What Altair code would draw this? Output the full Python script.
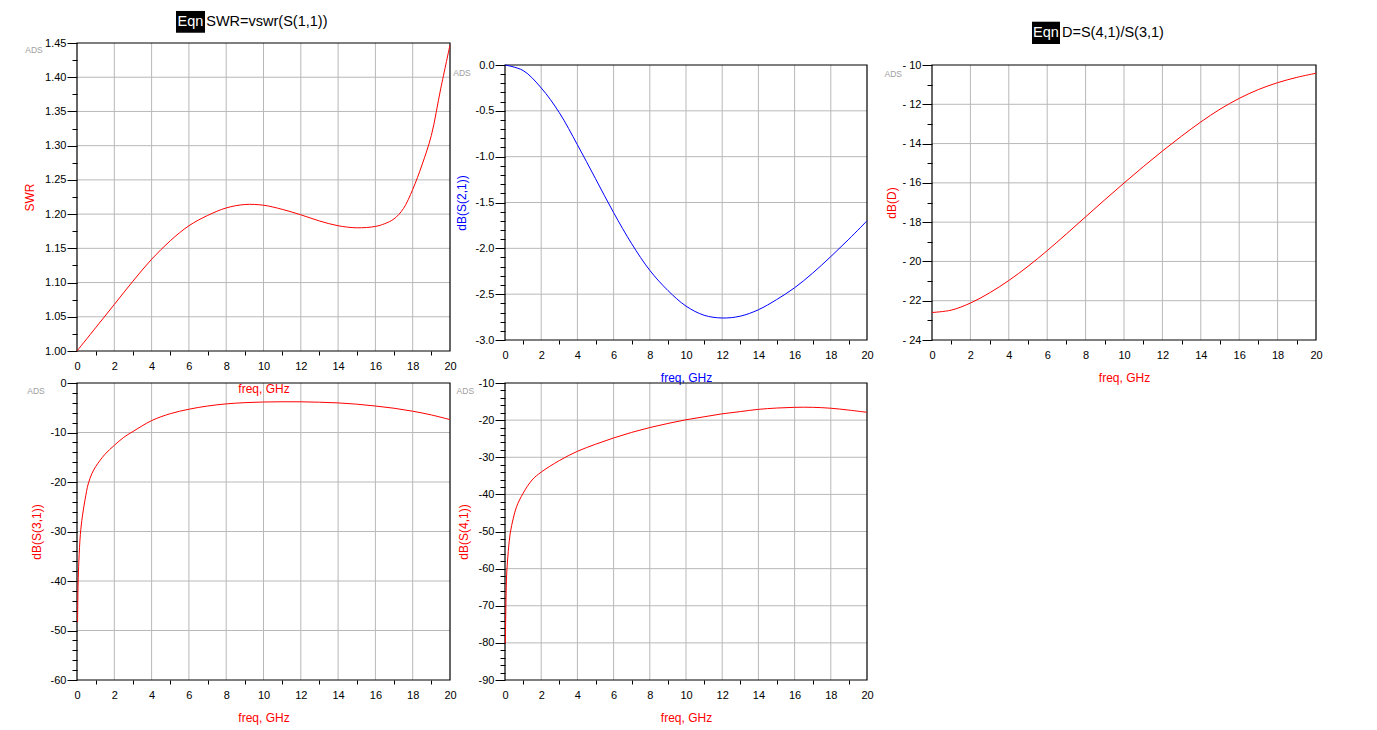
import altair as alt
import pandas as pd

FONT = "Liberation Sans"
RED = "#ff0000"
BLUE = "#0000ff"
GRID = "#b8b8b8"

# ---------------- data ----------------
SWR_FREQ = [0, 1, 2, 3, 4, 5, 6, 7, 8, 9, 10, 11, 12, 13, 14, 15, 16, 16.5, 17, 17.5, 18, 18.5,
            19, 19.5, 20]
SWR_VAL = [1.000, 1.034, 1.068, 1.102, 1.134, 1.161, 1.183, 1.198, 1.209, 1.214, 1.213, 1.207,
           1.199, 1.190, 1.183, 1.180, 1.182, 1.186, 1.193, 1.208, 1.236, 1.272, 1.315, 1.383,
           1.447]

FREQ = [0, 1, 2, 3, 4, 5, 6, 7, 8, 9, 10, 11, 12, 13, 14, 15, 16, 17, 18, 19, 20]
S21_DB = [0.0, -0.06, -0.25, -0.52, -0.87, -1.24, -1.61, -1.95, -2.24, -2.46, -2.63,
          -2.73, -2.76, -2.74, -2.67, -2.56, -2.43, -2.27, -2.09, -1.90, -1.70]
D_DB = [-22.60, -22.48, -22.12, -21.60, -20.97, -20.25, -19.45, -18.60, -17.73, -16.86, -16.01,
        -15.18, -14.38, -13.62, -12.90, -12.25, -11.70, -11.25, -10.90, -10.63, -10.42]

S31_FREQ = [0.03, 0.06, 0.1, 0.18, 0.29, 0.43, 0.6, 0.8, 1.0, 1.5, 2, 2.5, 3, 4, 5, 6, 7, 8, 9, 10,
            11, 12, 13, 14, 15, 16, 17, 18, 19, 20]
S31_DB = [-48.3, -40.4, -36.0, -30.6, -26.9, -23.6, -20.4, -18.3, -16.9, -14.4, -12.6, -11.0, -9.8,
          -7.6, -6.2, -5.3, -4.65, -4.22, -3.97, -3.84, -3.79, -3.80, -3.88, -4.02, -4.28, -4.65,
          -5.10, -5.70, -6.45, -7.40]

S41_FREQ = [0.02, 0.055, 0.09, 0.18, 0.29, 0.46, 0.64, 1.0, 1.5, 2, 3, 4, 5, 6, 7, 8, 9, 10,
            11, 12, 13, 14, 15, 16, 17, 18, 19, 20]
S41_DB = [-80.1, -68.4, -61.7, -55.4, -50.4, -46.4, -43.3, -39.7, -36.1, -34.0, -30.9, -28.4,
          -26.5, -24.8, -23.3, -22.0, -20.9, -19.9, -19.1, -18.3, -17.7, -17.1, -16.75, -16.55,
          -16.55, -16.8, -17.3, -17.9]

# ---------------- ticks ----------------
X_MAJOR = [0, 2, 4, 6, 8, 10, 12, 14, 16, 18, 20]
X_MINOR = [1, 3, 5, 7, 9, 11, 13, 15, 17, 19]
X_GRID = [2, 4, 6, 8, 10, 12, 14, 16, 18]

Y1_MAJOR = [1.00, 1.05, 1.10, 1.15, 1.20, 1.25, 1.30, 1.35, 1.40, 1.45]
Y1_MINOR = [1.025, 1.075, 1.125, 1.175, 1.225, 1.275, 1.325, 1.375, 1.425]
Y2_MAJOR = [-3.0, -2.5, -2.0, -1.5, -1.0, -0.5, 0.0]
Y2_MINOR = [round(-3.0 + 0.1 * i, 2) for i in range(31) if i % 5]
Y3_MAJOR = [-24, -22, -20, -18, -16, -14, -12, -10]
Y3_MINOR = [-23, -21, -19, -17, -15, -13, -11]
Y4_MAJOR = [-60, -50, -40, -30, -20, -10, 0]
Y4_MINOR = [v for v in range(-60, 1, 2) if v % 10]
Y5_MAJOR = [-90, -80, -70, -60, -50, -40, -30, -20, -10]
Y5_MINOR = [v for v in range(-90, -9, 2) if v % 10]

# whole drawing area (plot area of all panels)
W, H = 1239, 637
ONE = pd.DataFrame({"a": [0]})


def panel(c):
    xs = alt.Scale(domain=[0, 20], range=c["xr"], nice=False, zero=False)
    ys = alt.Scale(domain=c["yd"], range=c["yr"], nice=False, zero=False)
    xl, xrt = c["xr"]
    yb, yt = c["yr"]
    ymin, ymax = c["yd"]
    common = dict(grid=False, domain=False, tickColor="black", tickWidth=1, labelColor="black",
                  labelFont=FONT, labelFontSize=11, labelFlush=False, labelOverlap=False)
    x_major = alt.Axis(
        orient="bottom", offset=yb - H, values=X_MAJOR, tickSize=0, labelPadding=9,
        format="d",
        title="freq, GHz", titleColor=c["xtc"], titleFont=FONT, titleFontSize=12,
        titleFontWeight="normal", titleX=(xl + xrt) / 2, titleY=37.5, titleBaseline="middle",
        titleAlign="center", titleAngle=0, **common)
    x_minor = alt.Axis(orient="bottom", offset=yb - H, values=X_MINOR, tickSize=4, labels=False,
                       title="", **common)
    y_major = alt.Axis(
        orient="left", offset=-xl, values=c["ymaj"], tickSize=10, labelPadding=1,
        labelExpr=f"replace(format(datum.value, '{c['fmt']}'), '\u2212', '{c['minus']}')",
        title=c["ytitle"], titleColor=c["color"], titleFont=FONT, titleFontSize=12,
        titleFontWeight="normal", titleX=c["ytx"], titleY=(yt + yb) / 2, titleBaseline="middle",
        titleAlign="center", titleAngle=-90, **common)
    y_minor = alt.Axis(orient="left", offset=-xl, values=c["ymin"], tickSize=5, labels=False,
                       title="", **common)

    df = pd.DataFrame({"f": c["f"], "v": c["v"]})
    line = alt.Chart(df).mark_line(color=c["color"], strokeWidth=1, interpolate="catmull-rom").encode(
        x=alt.X("f:Q", scale=xs, axis=x_major),
        y=alt.Y("v:Q", scale=ys, axis=y_major),
    )
    gx = alt.Chart(pd.DataFrame({"g": X_GRID})).mark_rule(color=GRID, strokeWidth=1).encode(
        x=alt.X("g:Q", scale=xs, axis=x_minor),
        y=alt.YDatum(ymin, type="quantitative", scale=ys, axis=None),
        y2=alt.Y2Datum(ymax),
    )
    gy = alt.Chart(pd.DataFrame({"g": c["grid"]})).mark_rule(color=GRID, strokeWidth=1).encode(
        y=alt.Y("g:Q", scale=ys, axis=y_minor),
        x=alt.XDatum(0, type="quantitative", scale=xs, axis=None),
        x2=alt.X2Datum(20),
    )
    frame = alt.Chart(ONE).mark_rect(fillOpacity=0, stroke="black", strokeWidth=1.2).encode(
        x=alt.XDatum(0, type="quantitative", scale=xs, axis=None),
        x2=alt.X2Datum(20),
        y=alt.YDatum(ymin, type="quantitative", scale=ys, axis=None),
        y2=alt.Y2Datum(ymax),
    )
    ax, ay = c["ads"]
    ads = alt.Chart(ONE).mark_text(text="ADS", font=FONT, fontSize=8.5, color="#a0a0a0",
                                   align="center", baseline="middle").encode(
        x=alt.XDatum(ax, type="quantitative", scale=xs, axis=None),
        y=alt.YDatum(ay, type="quantitative", scale=ys, axis=None),
    )
    layers = [gx, gy, frame, line, ads]
    if "eqn" in c:
        bx1, bx2, by1, by2, tx, txt = c["eqn"]
        box = alt.Chart(ONE).mark_rect(color="black").encode(
            x=alt.XDatum(bx1, type="quantitative", scale=xs, axis=None),
            x2=alt.X2Datum(bx2),
            y=alt.YDatum(by1, type="quantitative", scale=ys, axis=None),
            y2=alt.Y2Datum(by2),
        )
        ym = (by1 + by2) / 2
        eqn = alt.Chart(ONE).mark_text(text="Eqn", font=FONT, fontSize=14.5, color="white",
                                       align="center", baseline="middle").encode(
            x=alt.XDatum((bx1 + bx2) / 2, type="quantitative", scale=xs, axis=None),
            y=alt.YDatum(ym, type="quantitative", scale=ys, axis=None),
        )
        ttl = alt.Chart(ONE).mark_text(text=txt, font=FONT, fontSize=14.5, color="black",
                                       align="left", baseline="middle").encode(
            x=alt.XDatum(tx, type="quantitative", scale=xs, axis=None),
            y=alt.YDatum(ym, type="quantitative", scale=ys, axis=None),
        )
        layers += [box, eqn, ttl]
    return alt.layer(*layers).resolve_axis(x="independent", y="independent")


P1 = dict(f=SWR_FREQ, v=SWR_VAL, color=RED, xtc=RED, xr=[0, 373], yr=[308, 0], yd=[1.0, 1.45],
          ymaj=Y1_MAJOR, ymin=Y1_MINOR, grid=Y1_MAJOR[1:-1], fmt=".2f", minus="-",
          ytitle="SWR", ytx=-47.5, ads=(-2.306, 1.4398),
          eqn=(5.308, 6.863, 1.4650, 1.4968, 6.93, "SWR=vswr(S(1,1))"))
P2 = dict(f=FREQ, v=S21_DB, color=BLUE, xtc=BLUE, xr=[428, 790], yr=[297, 22], yd=[-3.0, 0.0],
          ymaj=Y2_MAJOR, ymin=Y2_MINOR, grid=Y2_MAJOR[1:-1], fmt=".1f", minus="-",
          ytitle="dB(S(2,1))", ytx=-44, ads=(-2.376, -0.0873))
P3 = dict(f=FREQ, v=D_DB, color=RED, xtc=RED, xr=[855, 1239], yr=[297, 22], yd=[-24, -10],
          ymaj=Y3_MAJOR, ymin=Y3_MINOR, grid=Y3_MAJOR[1:-1], fmt="d", minus="- ",
          ytitle="dB(D)", ytx=-41, ads=(-2.016, -10.448),
          eqn=(5.208, 6.667, -8.931, -7.796, 6.77, "D=S(4,1)/S(3,1)"))
P4 = dict(f=S31_FREQ, v=S31_DB, color=RED, xtc=RED, xr=[0, 373], yr=[637, 340], yd=[-60, 0],
          ymaj=Y4_MAJOR, ymin=Y4_MINOR, grid=Y4_MAJOR[1:-1], fmt="d", minus="-",
          ytitle="dB(S(3,1))", ytx=-41, ads=(-2.198, -1.616))
P5 = dict(f=S41_FREQ, v=S41_DB, color=RED, xtc=RED, xr=[428, 790], yr=[637, 340], yd=[-90, -10],
          ymaj=Y5_MAJOR, ymin=Y5_MINOR, grid=Y5_MAJOR[1:-1], fmt="d", minus="-",
          ytitle="dB(S(4,1))", ytx=-42, ads=(-2.193, -12.155))

chart = alt.layer(*[panel(p) for p in (P1, P2, P3, P4, P5)]).resolve_scale(
    x="independent", y="independent"
).resolve_axis(
    x="independent", y="independent"
).properties(
    width=W, height=H,
    autosize=alt.AutoSizeParams(type="none"),
    padding={"left": 69, "top": 35, "right": 40, "bottom": 45},
    background="white",
    view=alt.ViewBackground(stroke="transparent", strokeOpacity=0),
).configure_view(stroke="transparent", strokeOpacity=0).configure(font=FONT)

chart.save("out.html", embed_options={"renderer": "svg", "actions": False})
